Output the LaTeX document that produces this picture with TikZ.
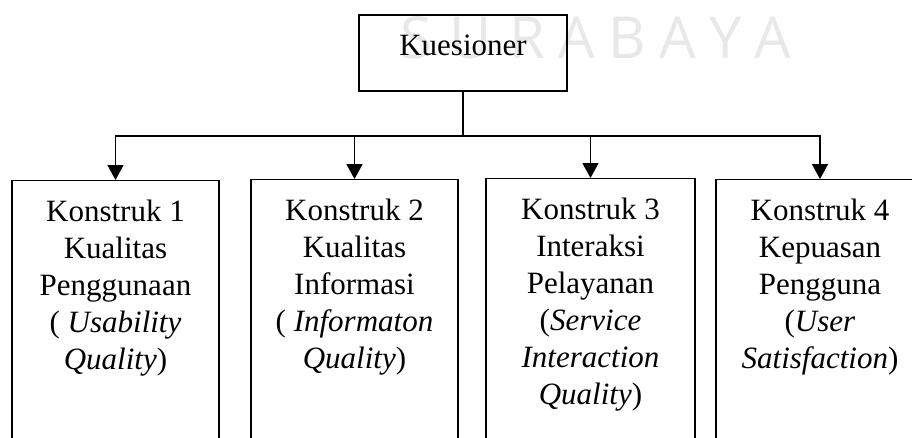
\documentclass[tikz,border=0pt]{standalone}
\usepackage{fontspec}
\setmainfont{Liberation Serif}
\newfontfamily\capfont{Open Sans}
\usetikzlibrary{arrows.meta}

\begin{document}
\begin{tikzpicture}[x=1pt,y=-1pt,
	kotak/.style={draw, line width=1.2pt, inner sep=0pt},
	isi/.style={align=center, inner sep=0pt, font=\fontsize{31}{37}\selectfont},
	garis/.style={line width=1.8pt},
	panah/.style={garis, -{Triangle[width=16pt,length=15pt]}}]
	\clip (0,0) rectangle (912,437);
	% tanda air
	\foreach \h/\x [count=\i] in {S/416,U/471,R/527,A/577,B/627,A/678,Y/726,A/773}
		\node[anchor=base, inner sep=0pt, text=black!9, font=\capfont\fontsize{58}{58}\selectfont] (cap\i) at (\x,58) {\h};
	\node[kotak, minimum width=208pt, text height=40pt, text depth=36pt, font=\fontsize{31}{37}\selectfont] (kues) at (463,53) {Kuesioner};
	\node[kotak, minimum width=207pt, minimum height=290pt, anchor=north] (k1) at (115.5,180) {};
	\node[kotak, minimum width=207pt, minimum height=290pt, anchor=north] (k2) at (354.5,179) {};
	\node[kotak, minimum width=209pt, minimum height=290pt, anchor=north] (k3) at (590.5,178) {};
	\node[kotak, minimum width=208pt, minimum height=290pt, anchor=north] (k4) at (820,179) {};
	\node[isi, anchor=north] (t1) at ([yshift=-20pt]k1.north) {Konstruk 1\\Kualitas\\Penggunaan\\( \textit{Usability}\\\textit{Quality})};
	\node[isi, anchor=north] (t2) at ([yshift=-20pt]k2.north) {Konstruk 2\\Kualitas\\Informasi\\( \textit{Informaton}\\\textit{Quality})};
	\node[isi, anchor=north] (t3) at ([yshift=-20pt]k3.north) {Konstruk 3\\Interaksi\\Pelayanan\\(\textit{Service}\\\textit{Interaction}\\\textit{Quality})};
	\node[isi, anchor=north] (t4) at ([yshift=-20pt]k4.north) {Konstruk 4\\Kepuasan\\Pengguna\\(\textit{User}\\\textit{Satisfaction})};
	% garis cabang
	\coordinate (bus) at (463,136);
	\draw[garis] (kues.south) -- (bus);
	\foreach \k in {k1,k2,k3,k4}
		\draw[panah] (bus) -| (\k.north);
\end{tikzpicture}
\end{document}
